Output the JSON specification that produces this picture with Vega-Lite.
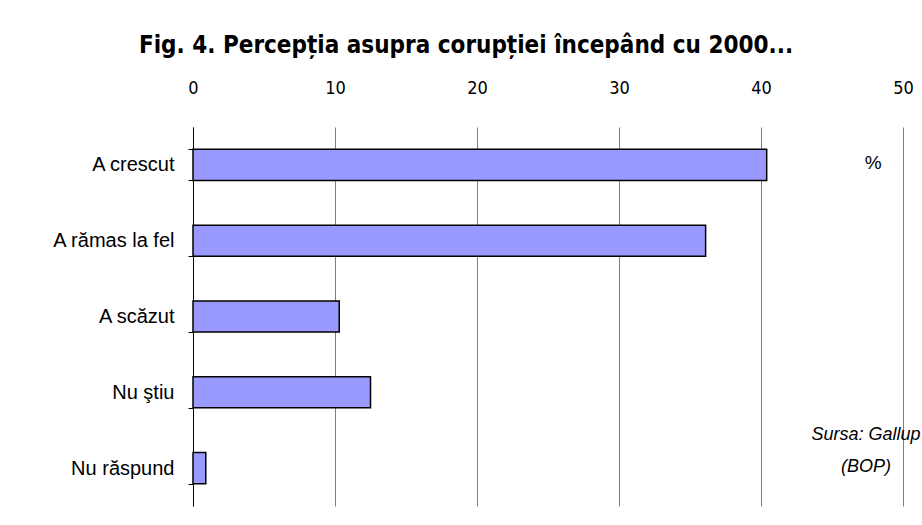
{
  "$schema": "https://vega.github.io/schema/vega-lite/v6.json",
  "width": 710,
  "height": 379,
  "autosize": "none",
  "padding": {"left": 193, "top": 127, "right": 19, "bottom": 19},
  "background": "white",
  "config": {"view": {"stroke": null}},
  "title": {
    "text": "Fig. 4. Percepția asupra corupției începând cu 2000...",
    "font": "DejaVu Sans Condensed",
    "fontWeight": "bold",
    "fontSize": 24,
    "color": "black",
    "anchor": "middle",
    "dx": -82,
    "offset": 21
  },
  "data": {
    "values": [
      {"cat": "A crescut", "value": 40.4},
      {"cat": "A rămas la fel", "value": 36.1},
      {"cat": "A scăzut", "value": 10.3},
      {"cat": "Nu ştiu", "value": 12.5},
      {"cat": "Nu răspund", "value": 0.9}
    ]
  },
  "layer": [
    {
      "mark": {"type": "bar", "fill": "#9999FF", "stroke": "black", "strokeWidth": 1.5},
      "encoding": {
        "y": {
          "field": "cat",
          "type": "nominal",
          "scale": {"domain": ["A crescut", "A rămas la fel", "A scăzut", "Nu ştiu", "Nu răspund"], "paddingInner": 0.59, "paddingOuter": 0.295},
          "axis": {
            "title": null,
            "tickBand": "extent",
            "labelFont": "Liberation Sans",
            "labelFontSize": 20,
            "labelColor": "black",
            "labelPadding": 14,
            "domainColor": "black",
            "domainWidth": 1,
            "tickColor": "black",
            "tickSize": 5,
            "grid": false
          }
        },
        "x": {
          "field": "value",
          "type": "quantitative",
          "scale": {"domain": [0, 50], "nice": false},
          "axis": {
            "orient": "top",
            "title": null,
            "values": [0, 10, 20, 30, 40, 50],
            "grid": true,
            "gridColor": "#808080",
            "gridWidth": 1,
            "gridOpacity": 1,
            "domain": false,
            "ticks": false,
            "labelFlush": false,
            "labelFont": "DejaVu Sans Condensed",
            "labelFontSize": 18,
            "labelColor": "black",
            "labelPadding": 30
          }
        }
      }
    },
    {
      "data": {"values": [{"t": "%"}]},
      "mark": {"type": "text", "font": "Liberation Sans", "fontSize": 19, "color": "black", "align": "center", "baseline": "middle", "yOffset": -2},
      "encoding": {
        "x": {"datum": 47.9, "type": "quantitative"},
        "y": {"datum": "A crescut", "type": "nominal"},
        "text": {"field": "t"}
      }
    },
    {
      "data": {"values": [{"t": ["Sursa: Gallup", "(BOP)"]}]},
      "mark": {"type": "text", "font": "Liberation Sans", "fontSize": 18, "fontStyle": "italic", "color": "black", "align": "center", "baseline": "middle", "lineHeight": 32, "yOffset": -33},
      "encoding": {
        "x": {"datum": 47.4, "type": "quantitative"},
        "y": {"datum": "Nu răspund", "type": "nominal"},
        "text": {"field": "t"}
      }
    }
  ]
}
